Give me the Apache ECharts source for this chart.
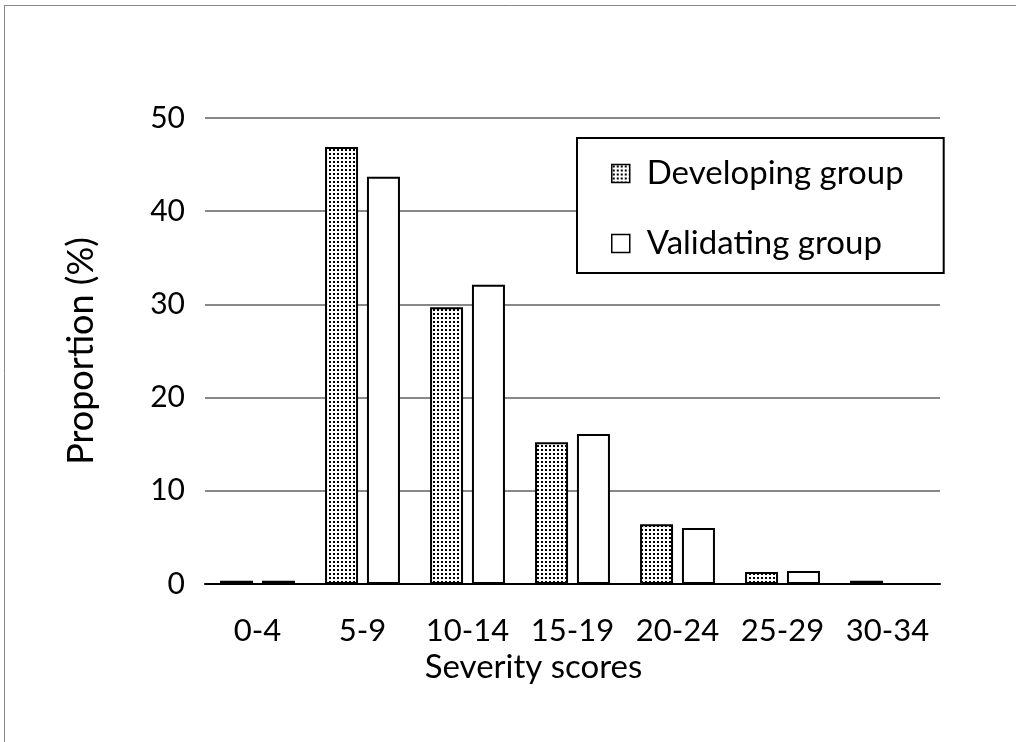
<!DOCTYPE html>
<html>
<head>
<meta charset="utf-8">
<script src="https://cdn.jsdelivr.net/npm/echarts@6/dist/echarts.min.js"></script>
<style>html,body{margin:0;padding:0;background:#fff;}#c{width:1016px;height:742px;}</style>
</head>
<body>
<div id="c"></div>
<script>
const categories = ['0-4','5-9','10-14','15-19','20-24','25-29','30-34'];
const developing = [0.35, 46.9, 29.7, 15.2, 6.4, 1.3, 0.35];
const validating = [0.35, 43.7, 32.1, 16.1, 6.0, 1.4, 0];
const yTicks = [0, 10, 20, 30, 40, 50];

const tile = document.createElement('canvas');
tile.width = 4; tile.height = 4;
const tc = tile.getContext('2d');
tc.fillStyle = '#fff'; tc.fillRect(0,0,4,4);
tc.fillStyle = '#000'; tc.fillRect(1,1,2,2);

const FONT = 'Lato';
const chart = echarts.init(document.getElementById('c'), null, {renderer:'canvas'});
chart.setOption({
  backgroundColor: '#fff',
  animation: false,
  textStyle: {fontFamily: FONT, color: '#000'},
  graphic: [
    {type:'line', shape:{x1:4.5,y1:5.5,x2:1016,y2:5.5}, style:{stroke:'#888', lineWidth:1}},
    {type:'line', shape:{x1:4.5,y1:5,x2:4.5,y2:742}, style:{stroke:'#888', lineWidth:1}}
  ],
  grid: {left:205, right:76, top:118, bottom:158},
  legend: {
    orient:'vertical', left:577, top:138,
    padding:[19,40,13,34], itemGap:37,
    backgroundColor:'#fff', borderColor:'#000', borderWidth:2,
    itemWidth:18, itemHeight:18,
    textStyle:{fontFamily:FONT, fontSize:33, color:'#000', padding:[0,0,0,12]},
    data:[
      {name:'Developing group', icon:'rect', itemStyle:{color:{image:tile, repeat:'repeat'}, borderColor:'#000', borderWidth:1.5}},
      {name:'Validating group', icon:'rect', itemStyle:{color:'#fff', borderColor:'#000', borderWidth:1.5}}
    ]
  },
  xAxis: {
    type:'category', data:categories,
    name:'Severity scores', nameLocation:'middle', nameGap:66,
    nameTextStyle:{fontFamily:FONT, fontSize:33, color:'#000', padding:[0,78,0,0]},
    axisLine:{lineStyle:{color:'#000', width:2}},
    axisTick:{show:false},
    axisLabel:{fontFamily:FONT, fontSize:31, color:'#000', margin:31, interval:0, hideOverlap:false}
  },
  yAxis: {
    type:'value', min:0, max:50, interval:10,
    name:'Proportion (%)', nameLocation:'middle', nameGap:106,
    nameTextStyle:{fontFamily:FONT, fontSize:36, color:'#000'},
    axisLine:{show:false}, axisTick:{show:false},
    axisLabel:{fontFamily:FONT, fontSize:30, color:'#000', margin:20,
      formatter: v => yTicks.includes(v) ? String(v) : ''},
    splitLine:{lineStyle:{color:'#888', width:2}}
  },
  series: [
    {name:'Developing group', type:'bar', data:developing, barWidth:33, barGap:'27%',
      itemStyle:{color:{image:tile, repeat:'repeat'}, borderColor:'#000', borderWidth:2}},
    {name:'Validating group', type:'bar', data:validating, barWidth:33, barGap:'27%',
      itemStyle:{color:'#fff', borderColor:'#000', borderWidth:2}}
  ]
});
</script>
</body>
</html>
